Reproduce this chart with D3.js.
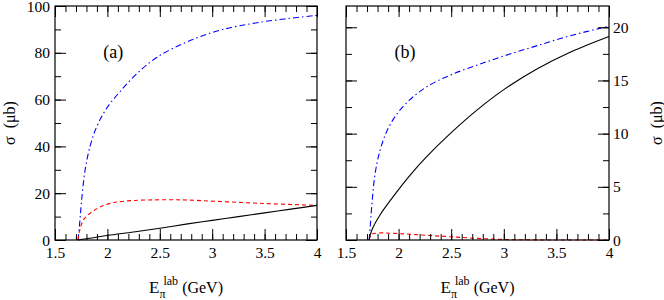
<!DOCTYPE html>
<html>
<head>
<meta charset="utf-8">
<script src="https://cdn.jsdelivr.net/npm/d3@7"></script>
<style>
  body { margin: 0; background: #fff; }
  svg text { font-family: "Liberation Serif", "Times New Roman", Times, serif !important; }
</style>
</head>
<body>
<div id="viz"></div>
<script>
// x axis ticks shared by both panels
const xMajor = [1.5, 2, 2.5, 3, 3.5, 4];
const xMinor = d3.range(1.5, 4.001, 0.1);

// panel (a)
const yMajorA = [0, 20, 40, 60, 80, 100];
const yMinorA = d3.range(0, 101, 10);
const blueA = [[1.72, 0], [1.738, 8.5], [1.754, 17], [1.786, 29.5], [1.834, 40], [1.898, 48.4],
  [1.993, 56.3], [2.12, 63.4], [2.28, 71], [2.47, 78], [2.75, 84.5], [3.07, 89.6], [3.46, 93.1], [4.0, 96]];
const redA = [[1.72, 0], [1.735, 4], [1.77, 8.5], [1.834, 11.4], [1.9, 13.4], [1.96, 14.7], [2.05, 15.9],
  [2.12, 16.4], [2.25, 16.9], [2.44, 17.15], [2.6, 17.2], [2.75, 17.1], [3.05, 16.5], [3.5, 15.6], [4.0, 14.8]];
const blackA = [[1.72, 0], [1.8, 0.5], [2.0, 1.9], [2.25, 3.4], [2.5, 5.0], [2.75, 6.8], [3.0, 8.4],
  [3.25, 10], [3.5, 11.6], [3.75, 13.2], [4.0, 14.8]];

// panel (b)
const yMajorB = [0, 5, 10, 15, 20];
const yMinorB = d3.range(0, 22.01, 2.5);
const blueB = [[1.72, 0], [1.73, 1.2], [1.744, 3.1], [1.776, 6.2], [1.823, 8.4], [1.887, 10.2], [1.98, 11.8],
  [2.108, 13.2], [2.267, 14.4], [2.49, 15.5], [2.75, 16.45], [3.0, 17.3], [3.31, 18.25], [3.63, 19.2], [4.0, 20.1]];
const redB = [[1.72, 0], [1.74, 0.5], [1.8, 0.65], [2.0, 0.6], [2.25, 0.45], [2.5, 0.3], [2.75, 0.15],
  [3.0, 0.05], [3.5, 0], [4.0, 0]];
const blackB = [[1.72, 0], [1.744, 0.9], [1.823, 2.35], [1.95, 4.1], [2.108, 6.08], [2.267, 7.83], [2.49, 10.0],
  [2.75, 12.26], [3.0, 14.14], [3.31, 16.06], [3.63, 17.66], [4.0, 19.14]];

const W = 664, H = 300;
const svg = d3.select("#viz").append("svg").attr("width", W).attr("height", H);

const panels = [
  {left: 55, right: 317, top: 6, bottom: 240, yMax: 100, yMajor: yMajorA, yMinor: yMinorA,
   labelSide: "left", tag: "(a)", series: [[blueA, "blue"], [redA, "red"], [blackA, "black"]]},
  {left: 346, right: 609, top: 6, bottom: 240, yMax: 22, yMajor: yMajorB, yMinor: yMinorB,
   labelSide: "right", tag: "(b)", series: [[blueB, "blue"], [redB, "red"], [blackB, "black"]]}
];

const styles = {
  blue: {stroke: "#0000ff", dash: "6,3,1.5,3"},
  red: {stroke: "#ff0000", dash: "4,3"},
  black: {stroke: "#000000", dash: null}
};

panels.forEach(function(p) {
  const x = d3.scaleLinear().domain([1.5, 4]).range([p.left, p.right]);
  const y = d3.scaleLinear().domain([0, p.yMax]).range([p.bottom, p.top]);
  const g = svg.append("g");

  // curves
  const line = d3.line()
    .x(function(d) { return x(d[0]); })
    .y(function(d) { return y(d[1]); })
    .curve(d3.curveCatmullRom.alpha(0.5));
  p.series.forEach(function(s) {
    const st = styles[s[1]];
    g.append("path")
      .datum(s[0])
      .attr("fill", "none")
      .attr("stroke", st.stroke)
      .attr("stroke-width", 1.1)
      .attr("stroke-dasharray", st.dash)
      .attr("d", line);
  });

  // ticks, all pointing inward
  function addAxis(axis, tx, ty) {
    const a = g.append("g").attr("transform", `translate(${tx},${ty})`).call(axis);
    a.select(".domain").remove();
    a.selectAll("line").attr("stroke", "#000").attr("stroke-width", 1);
    return a;
  }
  addAxis(d3.axisBottom(x).tickValues(xMinor).tickSize(-6).tickFormat(""), 0, p.bottom);
  addAxis(d3.axisTop(x).tickValues(xMinor).tickSize(-6).tickFormat(""), 0, p.top);
  addAxis(d3.axisTop(x).tickValues(xMajor).tickSize(-11).tickFormat(""), 0, p.top);
  const xb = addAxis(d3.axisBottom(x).tickValues(xMajor).tickSize(-11).tickFormat(d3.format("")), 0, p.bottom);
  xb.selectAll("text").attr("y", 18).attr("dy", 0)
    .attr("font-size", 15.5).attr("fill", "#000");

  addAxis(d3.axisLeft(y).tickValues(p.yMinor).tickSize(-6).tickFormat(""), p.left, 0);
  addAxis(d3.axisRight(y).tickValues(p.yMinor).tickSize(-6).tickFormat(""), p.right, 0);
  const yl = addAxis(d3.axisLeft(y).tickValues(p.yMajor).tickSize(-11)
    .tickFormat(p.labelSide === "left" ? d3.format("") : ""), p.left, 0);
  const yr = addAxis(d3.axisRight(y).tickValues(p.yMajor).tickSize(-11)
    .tickFormat(p.labelSide === "right" ? d3.format("") : ""), p.right, 0);
  [yl, yr].forEach(function(a) {
    a.selectAll("text").attr("font-size", 15.5).attr("fill", "#000").attr("dy", "0.33em");
  });
  yl.selectAll("text").attr("x", -5);
  yr.selectAll("text").attr("x", 4);

  // frame
  g.append("rect")
    .attr("x", p.left).attr("y", p.top)
    .attr("width", p.right - p.left).attr("height", p.bottom - p.top)
    .attr("fill", "none").attr("stroke", "#000").attr("stroke-width", 1.2);

  // panel tag
  g.append("text")
    .attr("x", x(1.96)).attr("y", 58)
    .attr("font-size", 18)
    .text(p.tag);

  // x label
  const xl = g.append("text")
    .attr("x", (p.left + p.right) / 2).attr("y", 293)
    .attr("text-anchor", "middle")
    .attr("font-size", 16);
  xl.append("tspan").attr("font-size", 17).text("E");
  xl.append("tspan").attr("font-size", 12).attr("dy", 5).text("π");
  xl.append("tspan").attr("font-size", 12).attr("dx", -2).attr("dy", -13).text("lab");
  xl.append("tspan").attr("dy", 8).text("\u00a0(GeV)");

  // y label
  const lx = p.labelSide === "left" ? 15 : 664 - 2;
  g.append("text")
    .attr("transform", `translate(${lx},${(p.top + p.bottom) / 2}) rotate(-90)`)
    .attr("text-anchor", "middle")
    .attr("font-size", 16)
    .text("σ\u00a0\u00a0(μb)");
});
</script>
</body>
</html>
